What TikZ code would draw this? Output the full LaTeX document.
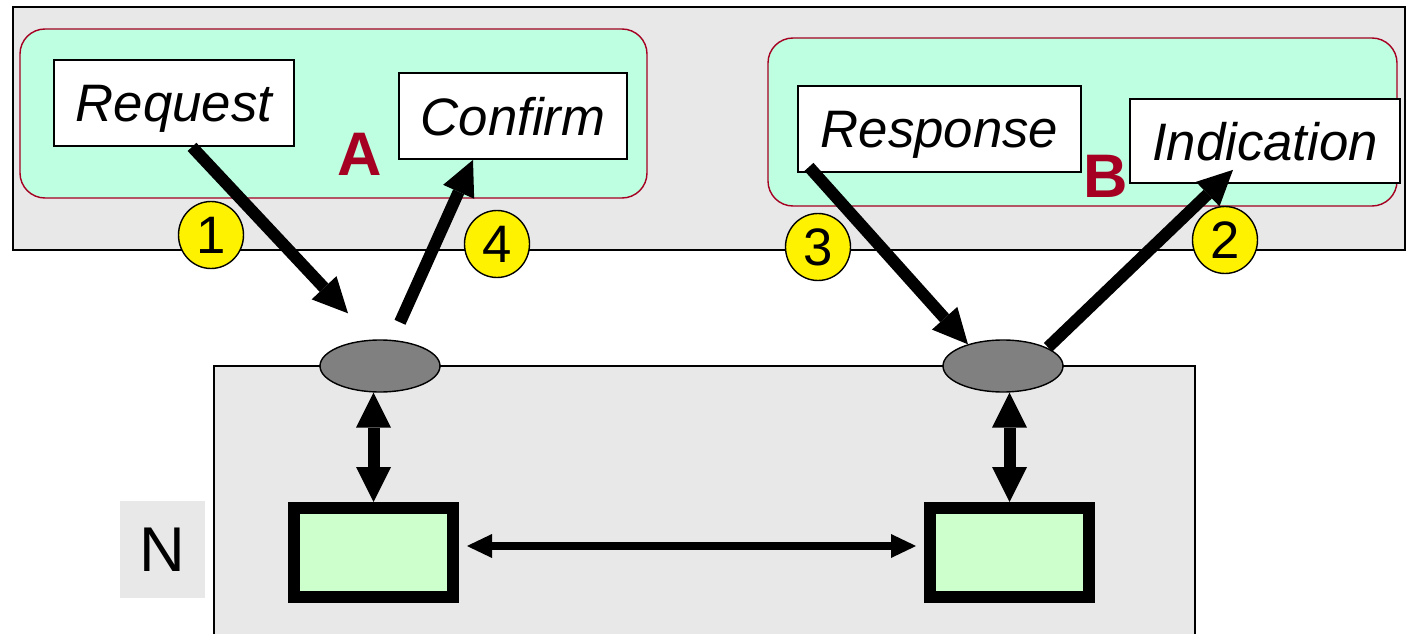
\documentclass[tikz,border=0pt]{standalone}
\usepackage{fontspec}
\setmainfont{Liberation Sans}
\usetikzlibrary{arrows.meta,shapes.geometric}
\definecolor{bggray}{RGB}{232,232,232}
\definecolor{mint}{RGB}{190,255,226}
\definecolor{darkred}{RGB}{165,0,33}
\definecolor{entgreen}{RGB}{204,255,204}
\definecolor{sapgray}{RGB}{128,128,128}
\tikzset{
	user/.style={draw=darkred,fill=mint,rounded corners=0.5cm,line width=0.8pt},
	prim/.style={rectangle,draw,fill=white,line width=1pt,inner sep=0pt,text depth=0pt,minimum height=1.72cm,font=\fontsize{30}{32}\selectfont\itshape},
	stname/.style={text=darkred,inner sep=0pt,font=\fontsize{35}{38}\selectfont\bfseries},
	num/.style={ellipse,draw,fill=yellow,line width=0.8pt,minimum width=1.3cm,minimum height=1.34cm,inner sep=0pt,font=\fontsize{30}{32}\selectfont},
	sap/.style={ellipse,draw,fill=sapgray,line width=0.8pt,minimum width=2.4cm,minimum height=1.04cm},
	ent/.style={rectangle,draw,fill=entgreen,line width=0.24cm,minimum width=3.18cm,minimum height=1.78cm},
	netlabel/.style={rectangle,fill=bggray,minimum width=1.7cm,minimum height=1.94cm,font=\fontsize{36}{38}\selectfont},
	flow/.style={line width=0.24cm,-{Triangle[length=0.7cm,width=0.68cm,line width=0pt]}},
	link/.style={line width=0.24cm,{Triangle[length=0.7cm,width=0.7cm,line width=0pt]}-{Triangle[length=0.7cm,width=0.7cm,line width=0pt]}},
	hlink/.style={line width=0.16cm,{Triangle[length=0.5cm,width=0.48cm,line width=0pt]}-{Triangle[length=0.5cm,width=0.48cm,line width=0pt]}}
}

\def\stationA{
	\draw[user] (0.40,12.08) rectangle (12.94,8.70);
	\path (3.48,10.60) node(Request) [prim,minimum width=4.8cm] {Request}
			(10.26,10.34) node(Confirm) [prim,minimum width=4.56cm] {Confirm}
			(7.2,9.58) node(UserA) [stname] {A};
}
\def\stationB{
	\draw[user] (15.36,11.90) rectangle (27.94,8.54);
	\path (18.79,10.08) node(Response) [prim,minimum width=5.66cm] {Response}
			(25.30,9.84) node(Indication) [prim,minimum width=5.4cm,minimum height=1.68cm] {Indication}
			(22.12,9.14) node(UserB) [stname] {B};
}
\def\provider{
	\draw[fill=bggray,line width=1pt] (4.28,-0.5) rectangle (23.9,5.34);
	\path (7.6,5.34) node(SapA) [sap] {}
			(20.06,5.34) node(SapB) [sap] {}
			(7.47,1.61) node(EntA) [ent] {}
			(20.19,1.61) node(EntB) [ent] {}
			(3.25,1.67) node(Net) [netlabel] {N};
}
\def\steps{
	\path (4.22,7.96) node(Step1) [num] {1}
			(24.5,7.86) node(Step2) [num] {2}
			(16.36,7.72) node(Step3) [num] {3}
			(9.94,7.78) node(Step4) [num] {4};
}

\begin{document}
\begin{tikzpicture}
\useasboundingbox (0,0) rectangle (28.16,12.66);
\draw[fill=bggray,line width=1pt] (0.26,12.52) rectangle (28.10,7.66);
\stationA
\stationB
\steps
\provider
\draw[flow] ([xshift=0.36cm]Request.south) -- ([shift={(-0.64,0.52)}]SapA.north);
\draw[flow] ([shift={(0.40,0.34)}]SapA.north) -- ([xshift=-0.8cm]Confirm.south);
\draw[flow] ([shift={(-2.61,0.12)}]Response.south) -- ([shift={(-0.70,-0.10)}]SapB.north);
\draw[flow] ([shift={(0.90,-0.16)}]SapB.north) -- ([shift={(-0.64,0.28)}]Indication.south);
\draw[link] (EntA.north |- SapA.south) -- (EntA.north);
\draw[link] (EntB.north |- SapB.south) -- (EntB.north);
\draw[hlink] ([shift={(0.16,0.13)}]EntA.east) -- ([shift={(-0.16,0.13)}]EntB.west);
\end{tikzpicture}
\end{document}
